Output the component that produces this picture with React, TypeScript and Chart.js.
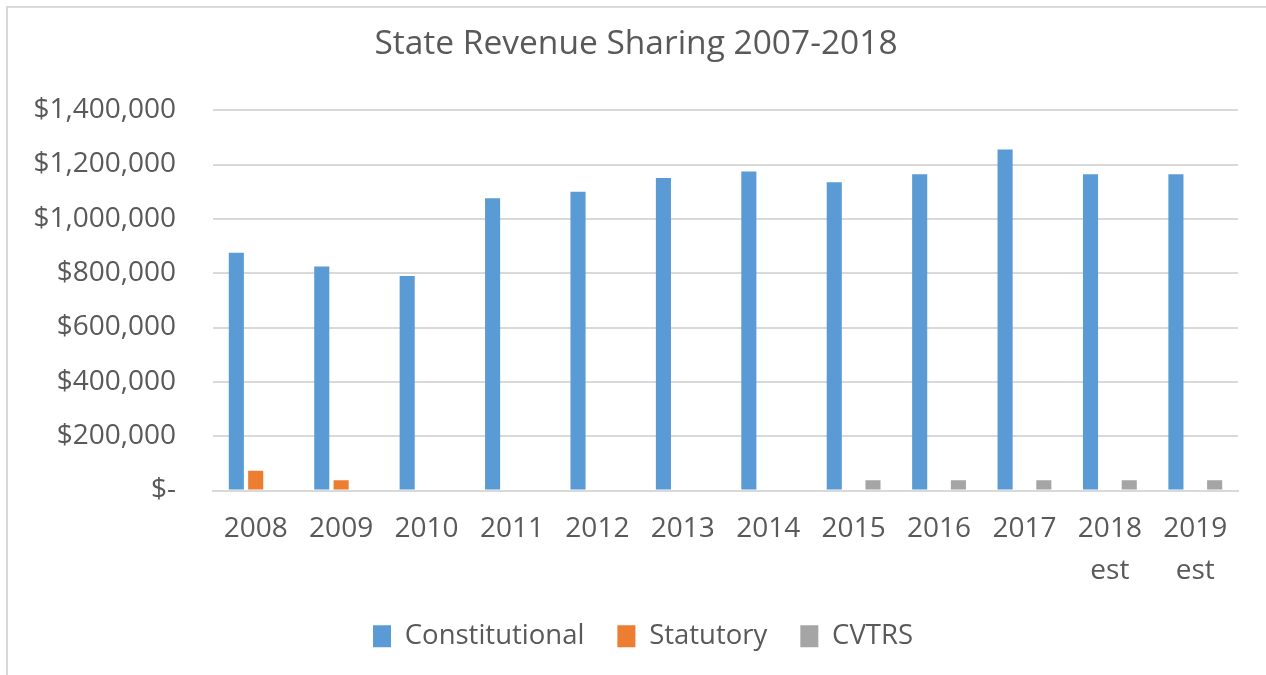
import React, { useEffect, useRef } from "react";
import { Chart, registerables } from "chart.js";

Chart.register(...registerables);

const categories: (string | string[])[] = [
  "2008", "2009", "2010", "2011", "2012", "2013", "2014", "2015", "2016", "2017",
  ["2018", "est"], ["2019", "est"],
];
const constitutional = [875000, 825000, 790000, 1076000, 1100000, 1150000, 1174000, 1135000, 1164000, 1255000, 1164000, 1164000];
const statutory = [73000, 38000, 0, 0, 0, 0, 0, 0, 0, 0, 0, 0];
const cvtrs = [0, 0, 0, 0, 0, 0, 0, 38000, 38000, 38000, 38000, 38000];
const seriesNames = ["Constitutional", "Statutory", "CVTRS"];
const yMax = 1400000;
const yStep = 200000;
const titleText = "State Revenue Sharing 2007-2018";

const FONT = "'Open Sans', 'Noto Sans', sans-serif";
const TEXT = "#595959";
const GRID = "#d9d9d9";

const boxShift = {
  id: "boxShift",
  afterLayout(chart: any) {
    const lg = chart.legend;
    if (lg) lg.left += 48;
    const tb = chart.titleBlock;
    if (tb) tb.left += 34;
  },
};

export default function App() {
  const ref = useRef<HTMLCanvasElement | null>(null);
  useEffect(() => {
    if (!ref.current) return;
    const fmt = (v: number) => (v === 0 ? "$-" : "$" + v.toLocaleString("en-US"));
    const chart = new Chart(ref.current, {
      type: "bar",
      data: {
        labels: categories,
        datasets: [
          { label: seriesNames[0], data: constitutional, backgroundColor: "#5B9BD5" },
          { label: seriesNames[1], data: statutory, backgroundColor: "#ED7D31" },
          { label: seriesNames[2], data: cvtrs, backgroundColor: "#A5A5A5" },
        ],
      },
      plugins: [boxShift],
      options: {
        animation: false,
        responsive: false,
        maintainAspectRatio: false,
        datasets: { bar: { categoryPercentage: 0.68, barPercentage: 0.78 } },
        layout: { padding: { left: 0, right: 28, top: 24, bottom: 15 } },
        plugins: {
          tooltip: { enabled: false },
          title: {
            display: true,
            text: titleText,
            color: TEXT,
            font: { family: FONT, size: 33.5, weight: "normal" },
            padding: { top: 0, bottom: 46 },
          },
          legend: {
            position: "bottom",
            labels: {
              color: TEXT,
              font: { family: FONT, size: 27.5 },
              boxWidth: 18,
              boxHeight: 22,
              padding: 33,
            },
          },
        },
        scales: {
          x: {
            grid: { display: false, drawTicks: false },
            border: { display: true, color: GRID, width: 2 },
            ticks: {
              color: TEXT,
              font: { family: FONT, size: 28, lineHeight: 1.5 },
              padding: 18,
              maxRotation: 0,
              autoSkip: false,
            },
            afterFit: (s: any) => { s.height = 99; },
          },
          y: {
            min: 0,
            max: yMax,
            grid: { color: GRID, lineWidth: 2, drawTicks: false },
            border: { display: false },
            ticks: {
              stepSize: yStep,
              color: TEXT,
              font: { family: FONT, size: 28 },
              padding: 37,
              callback: (v: any) => fmt(Number(v)),
            },
            afterFit: (s: any) => { s.width = 213; },
          },
        },
      },
    });
    return () => chart.destroy();
  }, []);
  return (
    <div style={{ position: "absolute", left: 0, top: 0, width: 1266, height: 675, background: "#fff" }}>
      <canvas ref={ref} width={1266} height={675} style={{ position: "absolute", left: 0, top: 0 }} />
      <div
        style={{
          position: "absolute",
          left: 6,
          top: 6,
          width: 1260,
          height: 669,
          borderLeft: "2px solid #d9d9d9",
          borderTop: "2px solid #d9d9d9",
          boxSizing: "border-box",
          pointerEvents: "none",
        }}
      />
    </div>
  );
}
